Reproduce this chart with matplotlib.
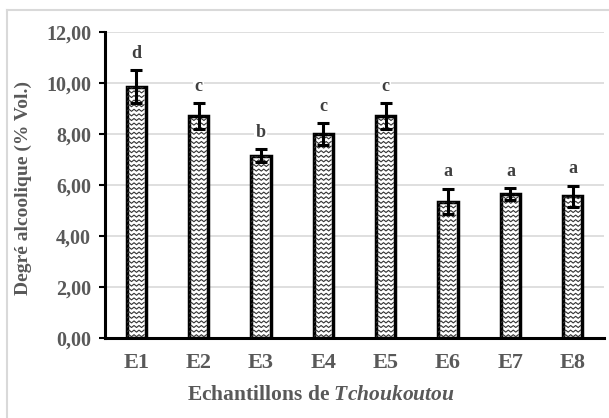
import matplotlib
matplotlib.use("Agg")
import matplotlib.pyplot as plt
import numpy as np
from matplotlib.lines import Line2D
from matplotlib.ticker import FuncFormatter

plt.rcParams['font.family'] = ['Liberation Serif', 'DejaVu Serif']
plt.rcParams['font.weight'] = 'bold'
plt.rcParams['axes.labelweight'] = 'bold'
plt.rcParams['mathtext.fontset'] = 'custom'
plt.rcParams['mathtext.rm'] = 'Liberation Serif:bold'
plt.rcParams['mathtext.it'] = 'Liberation Serif:italic:bold'

samples = ['E1', 'E2', 'E3', 'E4', 'E5', 'E6', 'E7', 'E8']
degre = [9.85, 8.70, 7.15, 8.00, 8.70, 5.35, 5.65, 5.55]
err = [0.65, 0.50, 0.25, 0.43, 0.50, 0.50, 0.22, 0.43]
groups = ['d', 'c', 'b', 'c', 'c', 'a', 'a', 'a']

W, H = 609, 418
fig = plt.figure(figsize=(W / 100, H / 100), dpi=100)
ax = fig.add_axes([105 / W, 1 - 338 / H, 499 / W, 306 / H])

gray = '#595959'
x = np.arange(len(samples))
bw = 0.31
bars = ax.bar(x, degre, width=bw, color='white', edgecolor='black',
              linewidth=2.5, zorder=3)
ax.errorbar(x, degre, yerr=err, fmt='none', ecolor='black', elinewidth=2.2,
            capsize=4, capthick=2.2, zorder=5)

ax.set_xlim(-0.5, 7.5)
ax.set_ylim(0, 12)
ax.set_yticks(np.arange(0, 13, 2))
ax.yaxis.set_major_formatter(FuncFormatter(lambda v, p: f'{v:.2f}'.replace('.', ',')))
ax.set_xticks(x)
ax.set_xticklabels(samples)
ax.grid(axis='y', color='#d9d9d9', linewidth=1.2, zorder=0)
ax.set_axisbelow(True)

for s in ['top', 'right']:
    ax.spines[s].set_visible(False)
ax.spines['left'].set_linewidth(2.2)
ax.spines['bottom'].set_linewidth(2.2)
ax.tick_params(axis='y', length=4, width=1.5, labelsize=14.5, labelcolor=gray, pad=6)
ax.tick_params(axis='x', length=0, labelsize=16, labelcolor=gray, pad=11)

ax.set_ylabel('Degré alcoolique (% Vol.)', fontsize=14, color=gray)
ax.yaxis.set_label_coords(-0.146, 0.49)
ax.set_xlabel(r'Echantillons de $\mathit{Tchoukoutou}$', fontsize=15.5, color=gray)
ax.xaxis.set_label_coords(0.433, -0.155)

# zigzag fill inside each bar, built in pixel units then mapped to data units
px_x = 8 / 499
px_y = 12 / 306
period, amp, step = 5.0, 1.0, 4.6
for rect in bars:
    x0, x1 = rect.get_x(), rect.get_x() + rect.get_width()
    top = rect.get_height()
    n = int((x1 - x0) / px_x / (period / 2)) + 3
    zx = x0 - px_x * period + np.arange(n) * px_x * period / 2
    zoff = np.where(np.arange(n) % 2 == 0, -amp, amp) * px_y
    yy = step * px_y / 2
    while yy < top + step * px_y:
        ln = Line2D(zx, yy + zoff, color='#333333', linewidth=0.8, zorder=4)
        ax.add_line(ln)
        ln.set_clip_path(rect)
        yy += step * px_y

for xi, m, e, g in zip(x, degre, err, groups):
    ax.annotate(g, (xi, m + e), xytext=(0, 9), textcoords='offset points',
                ha='center', va='baseline', fontsize=13, color='#404040',
                bbox=dict(facecolor='white', edgecolor='none', pad=1.0),
                zorder=6)

# light outer frame
fig.add_artist(Line2D([7 / W, 7 / W], [0, 1 - 10 / H], transform=fig.transFigure,
                      color='#d9d9d9', linewidth=1.5))
fig.add_artist(Line2D([7 / W, 1], [1 - 10 / H, 1 - 10 / H], transform=fig.transFigure,
                      color='#d9d9d9', linewidth=1.5))

fig.savefig('out.png', dpi=100)
